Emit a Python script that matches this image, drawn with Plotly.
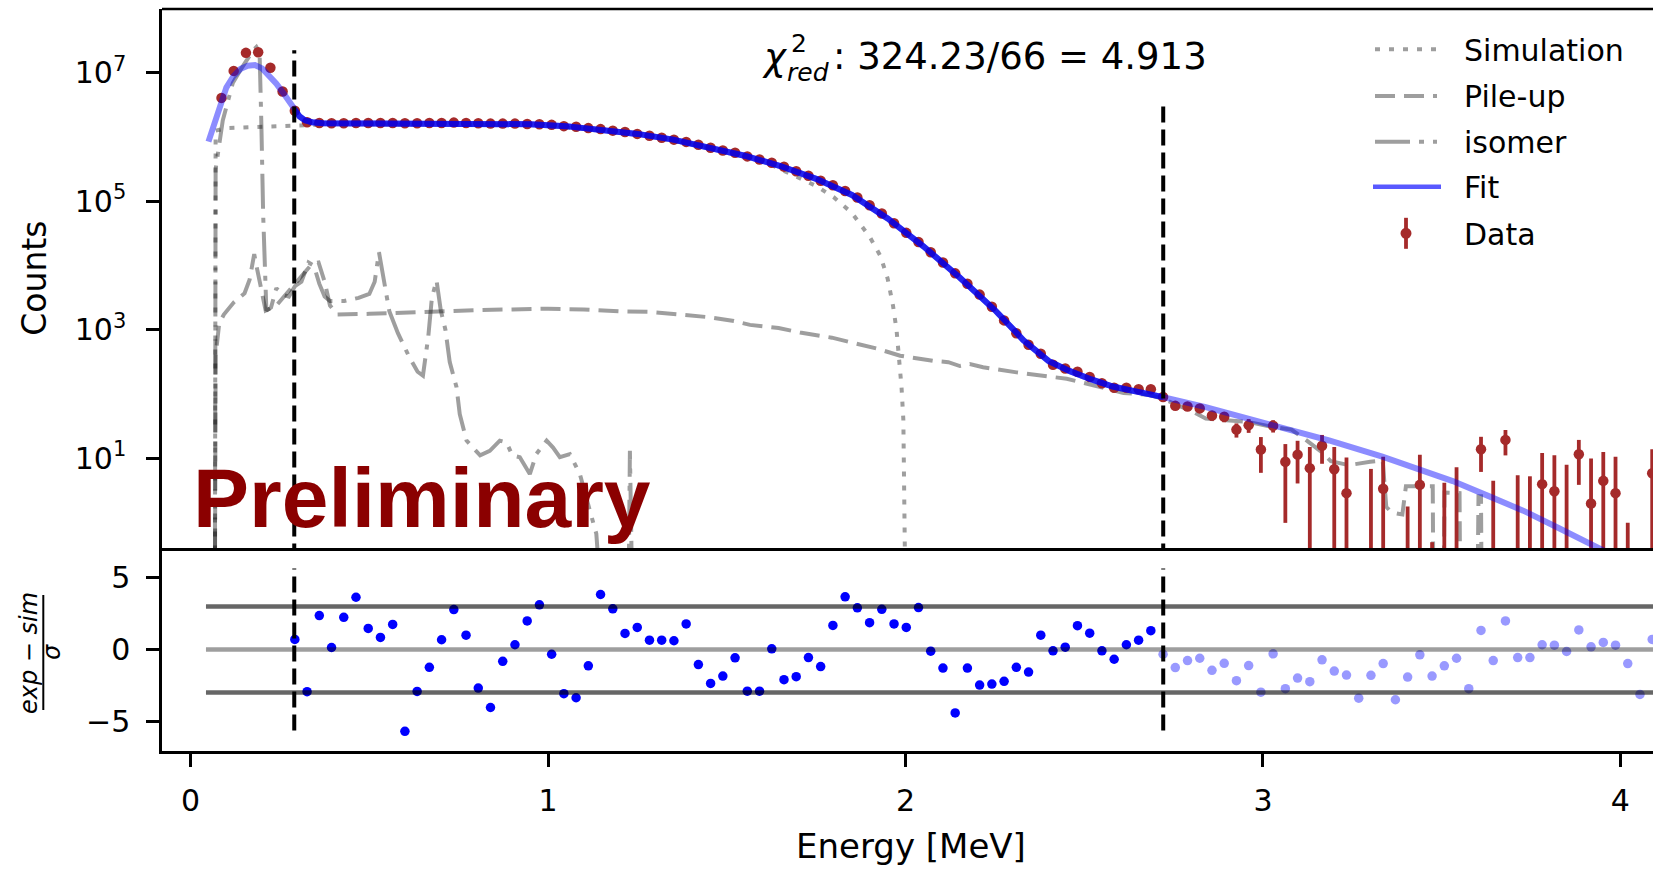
import numpy as np
import plotly.graph_objects as go

# ---------------- data ----------------
E0 = 0.0864          # first bin centre [MeV]
BIN = 0.03421        # bin width [MeV]

data_counts = [
    4.07e6, 1.07e7, 2.04e7, 2.09e7, 1.20e7, 5.13e6, 2.57e6,
    1.70e6, 1.66e6, 1.64e6, 1.64e6, 1.66e6, 1.66e6, 1.66e6, 1.66e6, 1.64e6, 1.64e6,
    1.66e6, 1.66e6, 1.68e6, 1.66e6, 1.64e6, 1.62e6, 1.62e6, 1.62e6, 1.60e6, 1.585e6,
    1.55e6, 1.48e6, 1.445e6, 1.38e6, 1.33e6, 1.26e6, 1.20e6, 1.12e6, 1.05e6, 9.77e5,
    9.12e5, 8.41e5, 7.59e5, 6.84e5, 6.17e5, 5.69e5, 5.01e5, 4.47e5, 3.98e5, 3.47e5,
    2.95e5, 2.51e5, 2.09e5, 1.78e5, 1.45e5, 1.15e5, 8.71e4, 6.46e4, 4.57e4, 3.24e4,
    2.34e4, 1.62e4, 1.12e4, 7.59e3, 5.25e3, 3.55e3, 2.29e3, 1.41e3, 891, 589,
    427, 288, 251, 224, 186, 148, 126, 126, 120, 120,
    90.8, 66.0, 64.6, 60.3, 46.8, 44.7, 28.2, 33.1, 13.8, 32.4,
    8.9, 11.5, 7.1, 15.8, 6.8, 2.9, -8.5, -1.1, 3.4, -8.6,
    -6.2, 3.9, -7.5, -3.8, -0.7, -8.7, 14.0, -3.5, 19.5, -2.5,
    -2.7, 4.0, 3.1, -0.2, 11.7, 2.0, 4.5, 2.9, -7.0, -8.8,
    5.9,
]
TAIL_FIRST = 77      # first bin above the fit window (error bars visible there)
tail_err = [
    8, 8, 8, 8, 8, 8, 7, 8, 7.8, 7,
    7.9, 7.4, 8, 7.5, 8.3, 7.5, 8, 8, 7.3, 8,
    8, 7.6, 8, 8, 8, 8, 7.8, 8, 8.3, 8,
    8, 8.2, 8.2, 8.2, 7.8, 8, 8.2, 7.8, 8, 8,
    8.1,
]
FIT_FIRST, FIT_LAST = 6, 76   # bins inside the fit window

res_in = [
    0.70, -2.94, 2.36, 0.14, 2.24, 3.64, 1.47, 0.84, 1.75, -5.70,
    -2.92, -1.24, 0.68, 2.78, 1.00, -2.69, -4.04, -0.82, 0.33, 1.99,
    3.11, -0.33, -3.08, -3.36, -1.14, 3.83, 2.83, 1.12, 1.54, 0.65,
    0.65, 0.61, 1.78, -1.05, -2.36, -1.85, -0.58, -2.90, -2.90, 0.05,
    -2.10, -1.89, -0.56, -1.19, 1.68, 3.67, 2.90, 1.87, 2.80, 1.78,
    1.54, 2.92, -0.12, -1.29, -4.42, -1.29, -2.48, -2.41, -2.22, -1.24,
    -1.57, 1.00, -0.09, 0.16, 1.66, 1.14, -0.09, -0.68, 0.33, 0.65,
    1.31,
]
res_out = [
    -0.33, -1.26, -0.77, -0.61, -1.45, -0.96, -2.17, -1.12, -2.97, -0.30,
    -2.73, -1.99, -2.24, -0.72, -1.50, -1.78, -3.39, -1.80, -0.98, -3.50,
    -1.92, -0.37, -1.85, -1.14, -0.61, -2.73, 1.33, -0.77, 1.99, -0.56,
    -0.56, 0.33, 0.30, -0.14, 1.36, 0.19, 0.49, 0.30, -0.98, -3.13,
    0.70,
]

fit_pre_E = [0.05, 0.07, 0.086, 0.10, 0.12, 0.14, 0.16, 0.18, 0.20, 0.22, 0.24, 0.26, 0.28, 0.29]
fit_pre_counts = [8.5e5, 1.86e6, 3.8e6, 5.89e6, 8.91e6, 1.15e7, 1.29e7, 1.32e7, 1.17e7,
                  9.12e6, 6.76e6, 4.79e6, 3.24e6, 2.69e6]
fit_in_E = [0.29, 0.305, 0.32, 0.34, 0.37, 0.45, 0.55, 0.65, 0.75, 0.85, 0.95, 1.05, 1.15,
            1.25, 1.35, 1.45, 1.55, 1.65, 1.75, 1.85, 1.95, 2.05, 2.15, 2.25, 2.33, 2.40,
            2.46, 2.52, 2.58, 2.64, 2.69, 2.721]
fit_in_counts = [2.69e6, 2.09e6, 1.82e6, 1.70e6, 1.64e6, 1.64e6, 1.66e6, 1.66e6, 1.66e6,
                 1.62e6, 1.585e6, 1.48e6, 1.32e6, 1.12e6, 9.12e5, 6.92e5, 5.13e5, 3.55e5,
                 2.24e5, 1.26e5, 5.43e4, 2.0e4, 6.68e3, 2.04e3, 692, 331, 229, 170, 132,
                 112, 100, 90.2]
fit_post_E = [2.721, 2.84, 3.037, 3.185, 3.334, 3.432, 3.531, 3.63, 3.728, 3.827, 3.945, 4.05, 4.15]
fit_post_counts = [90.2, 63.1, 32.4, 19.1, 10.7, 7.08, 4.47, 2.63, 1.55, 0.83, 0.40, 0.20, 0.10]

sim_E = [0.068, 0.070, 0.10, 0.15, 0.20, 0.25, 0.29, 0.35, 0.50, 0.70, 0.90, 1.00, 1.10,
         1.20, 1.30, 1.40, 1.50, 1.60, 1.70, 1.75, 1.80, 1.85, 1.90, 1.93, 1.95, 1.965,
         1.975, 1.983, 1.989, 1.994, 1.998, 2.0]
sim_counts = [0.05, 1.26e6, 1.38e6, 1.41e6, 1.45e6, 1.45e6, 1.48e6, 1.55e6, 1.58e6, 1.58e6,
              1.55e6, 1.48e6, 1.35e6, 1.17e6, 1.0e6, 7.76e5, 5.89e5, 4.27e5, 2.4e5, 1.74e5,
              1.15e5, 6.6e4, 2.8e4, 1.41e4, 6.3e3, 2.4e3, 1.0e3, 355, 126, 40, 3.2, 0.05]

pile_E = [0.068, 0.070, 0.08, 0.093, 0.121, 0.151, 0.165, 0.178, 0.186, 0.20, 0.21, 0.24,
          0.266, 0.292, 0.32, 0.34, 0.358, 0.375, 0.39, 0.41, 0.50, 0.60, 0.70, 0.80, 0.90,
          1.00, 1.10, 1.20, 1.285, 1.378, 1.45, 1.52, 1.565, 1.645, 1.705, 1.794, 1.845,
          1.92, 1.985, 2.077, 2.12, 2.152, 2.18, 2.217, 2.311, 2.376, 2.451, 2.525, 2.61,
          2.68, 2.721, 2.76, 2.80, 2.84, 2.90, 2.96, 3.02, 3.08, 3.12, 3.16, 3.19, 3.24,
          3.30, 3.335, 3.345, 3.36, 3.39, 3.40, 3.475, 3.477, 3.505, 3.508, 3.55, 3.552,
          3.600, 3.603, 3.61, 3.612, 3.70]
pile_counts = [0.05, 398, 1.26e3, 1.74e3, 2.69e3, 3.72e3, 6.03e3, 1.51e4, 8.91e3, 3.55e3,
               2.0e3, 2.4e3, 3.55e3, 5.25e3, 7.59e3, 1.07e4, 1.12e4, 5.62e3, 2.4e3, 1.74e3,
               1.78e3, 1.86e3, 2.0e3, 2.04e3, 2.09e3, 2.14e3, 2.09e3, 1.95e3, 1.91e3, 1.70e3,
               1.58e3, 1.38e3, 1.20e3, 1.07e3, 912, 759, 646, 513, 398, 331, 316, 275, 295,
               263, 219, 200, 174, 138, 105, 98, 85, 68, 55, 42, 40, 37, 31.6, 28.2, 19.5,
               13.2, 9.1, 7.9, 8.9, 9.3, 1.78, 1.45, 1.35, 3.7, 3.7, 0.05, 0.05, 2.95, 2.9,
               0.05, 0.05, 2.6, 2.6, 0.05, 0.05]

iso_E = [0.068, 0.070, 0.09, 0.118, 0.14, 0.16, 0.175, 0.184, 0.193, 0.198, 0.203, 0.212,
         0.225, 0.24, 0.255, 0.275, 0.292, 0.31, 0.33, 0.345, 0.36, 0.375, 0.39, 0.43, 0.47,
         0.50, 0.515, 0.527, 0.54, 0.556, 0.58, 0.61, 0.635, 0.65, 0.665, 0.675, 0.688,
         0.70, 0.713, 0.725, 0.744, 0.753, 0.772, 0.79, 0.81, 0.837, 0.865, 0.884, 0.90,
         0.921, 0.949, 0.967, 0.996, 1.014, 1.033, 1.061, 1.089, 1.117, 1.135, 1.15, 1.225,
         1.229, 1.236, 1.30]
iso_counts = [0.05, 3.16e5, 1.82e6, 6.92e6, 1.12e7, 1.70e7, 2.24e7, 2.51e7, 2.04e7, 1.58e6,
              6.31e4, 2.0e3, 2.24e3, 4.47e3, 3.55e3, 3.31e3, 4.79e3, 5.62e3, 1.12e4, 1.0e4,
              5.25e3, 3.31e3, 2.82e3, 2.82e3, 3.16e3, 3.63e3, 5.62e3, 1.62e4, 6.31e3, 1.95e3,
              891, 398, 224, 195, 794, 3.16e3, 5.89e3, 2.0e3, 1.0e3, 316, 129, 49, 19, 14.8,
              11.2, 13.2, 19, 17.8, 11.2, 10.5, 5.75, 11.7, 19, 14.8, 10.5, 11.7, 5.75, 1.55,
              0.68, 0.05, 0.05, 13.2, 0.05, 0.05]

fit_lo, fit_hi = 0.29, 2.721            # fit window [MeV]
fit_lo_top, fit_hi_top = 2.24e7, 3.0e6  # heights of the window markers
res_levels_outer = [-3, 3]
res_level_mid = 0
res_line_E = [0.043, 4.3]
res_vline_span = [-5.65, 5.65]
chi2, ndf = 324.23, 66

x_ticks = [0, 1, 2, 3, 4]
y_ticks_main = [1e1, 1e3, 1e5, 1e7]
y_ticklabels_main = ["10<sup>1</sup>", "10<sup>3</sup>", "10<sup>5</sup>", "10<sup>7</sup>"]
y_ticks_res = [-5, 0, 5]
legend_labels = ["Simulation", "Pile-up", "isomer", "Fit", "Data"]

# ---------------- geometry / style ----------------
W, H = 1653, 869
ML, MR, MT, MB = 162, 0, 9, 118
PW, PH = W - ML - MR, H - MT - MB
SPLIT = (H - MB - 548) / PH
XR = [-0.080, 4.0912]

def px2x(px):
    return (px - ML) / PW

def py2y(py):
    return (H - MB - py) / PH

GREY = "rgba(0,0,0,0.38)"
DOT = "5px,9px"
DASH = "20px,9px"
DASHDOT = "35px,9px,5px,9px"
BLACKDASH = "16px,7px"
DATA_C = "#a52a2a"
FONT = "DejaVu Sans"

energy = E0 + BIN * np.arange(len(data_counts))

fig = go.Figure()

# ---- main panel ----
fig.add_trace(go.Scatter(x=iso_E, y=iso_counts, mode="lines",
                         line=dict(color=GREY, width=4, dash=DASHDOT), xaxis="x", yaxis="y"))
fig.add_trace(go.Scatter(x=pile_E, y=pile_counts, mode="lines",
                         line=dict(color=GREY, width=4, dash=DASH), xaxis="x", yaxis="y"))
fig.add_trace(go.Scatter(x=sim_E, y=sim_counts, mode="lines",
                         line=dict(color=GREY, width=4, dash=DOT), xaxis="x", yaxis="y"))

# data error bars (only the tail bins have visible bars)
seg_x, seg_y = [], []
for k, s in enumerate(tail_err):
    i = TAIL_FIRST + k
    c = data_counts[i]
    hi = c + s
    if hi <= 0:
        continue
    lo = c - s if c - s > 0 else 1e-3
    seg_x += [energy[i], energy[i], None]
    seg_y += [lo, hi, None]
fig.add_trace(go.Scatter(x=seg_x, y=seg_y, mode="lines",
                         line=dict(color=DATA_C, width=3.8), xaxis="x", yaxis="y"))
fig.add_trace(go.Scatter(x=energy, y=[c if c > 0 else None for c in data_counts],
                         mode="markers", marker=dict(color=DATA_C, size=10.5),
                         xaxis="x", yaxis="y"))

fit_all_E = fit_pre_E + fit_in_E[1:] + fit_post_E[1:]
fit_all_counts = fit_pre_counts + fit_in_counts[1:] + fit_post_counts[1:]
fig.add_trace(go.Scatter(x=fit_all_E, y=fit_all_counts, mode="lines",
                         line=dict(color="rgba(0,0,255,0.45)", width=6), xaxis="x", yaxis="y"))
fig.add_trace(go.Scatter(x=fit_in_E, y=fit_in_counts, mode="lines",
                         line=dict(color="rgba(0,0,235,0.75)", width=6), xaxis="x", yaxis="y"))

fig.add_trace(go.Scatter(x=[fit_lo, fit_lo, None, fit_hi, fit_hi],
                         y=[1e-2, fit_lo_top, None, 1e-2, fit_hi_top], mode="lines",
                         line=dict(color="black", width=4, dash=BLACKDASH), xaxis="x", yaxis="y"))

# ---- residual panel ----
fig.add_trace(go.Scatter(x=energy[FIT_FIRST:FIT_LAST + 1], y=res_in, mode="markers",
                         marker=dict(color="#0000ff", size=9.5), xaxis="x2", yaxis="y2"))
fig.add_trace(go.Scatter(x=energy[TAIL_FIRST:TAIL_FIRST + len(res_out)], y=res_out, mode="markers",
                         marker=dict(color="rgba(0,0,255,0.4)", size=9.5), xaxis="x2", yaxis="y2"))
for lev in res_levels_outer:
    fig.add_trace(go.Scatter(x=res_line_E, y=[lev, lev], mode="lines",
                             line=dict(color="rgba(0,0,0,0.6)", width=4.5), xaxis="x2", yaxis="y2"))
fig.add_trace(go.Scatter(x=res_line_E, y=[res_level_mid, res_level_mid], mode="lines",
                         line=dict(color="rgba(0,0,0,0.38)", width=4.5), xaxis="x2", yaxis="y2"))
fig.add_trace(go.Scatter(x=[fit_lo, fit_lo, None, fit_hi, fit_hi],
                         y=[res_vline_span[0], res_vline_span[1], None, res_vline_span[0], res_vline_span[1]],
                         mode="lines", line=dict(color="black", width=4, dash=BLACKDASH),
                         xaxis="x2", yaxis="y2"))

axis_common = dict(showgrid=False, zeroline=False, showline=True, linecolor="black",
                   linewidth=2.5, ticks="outside", ticklen=13, tickwidth=2.5, tickcolor="black",
                   tickfont=dict(family=FONT, size=30, color="black"))

fig.update_layout(
    width=W, height=H,
    margin=dict(l=ML, r=MR, t=MT, b=MB, pad=0),
    paper_bgcolor="white", plot_bgcolor="white",
    showlegend=False,
    font=dict(family=FONT, size=30, color="black"),
    xaxis=dict(domain=[0, 1], range=XR, anchor="y", showticklabels=False,
               showgrid=False, zeroline=False, showline=True, linecolor="black",
               linewidth=2.5, ticks=""),
    yaxis=dict(axis_common, domain=[SPLIT, 1], type="log", range=[-0.391, 7.992], anchor="x",
               tickvals=y_ticks_main, ticktext=y_ticklabels_main, ticklabelstandoff=14),
    xaxis2=dict(axis_common, domain=[0, 1], range=XR, anchor="y2", tickvals=x_ticks,
                ticktext=[str(v) for v in x_ticks], ticklabelstandoff=8),
    yaxis2=dict(axis_common, domain=[0, SPLIT], range=[-7.07, 7.07], anchor="x2",
                tickvals=y_ticks_res, ticklabelstandoff=10),
)

shapes = [dict(type="line", xref="paper", yref="paper", x0=0, x1=1, y0=1, y1=1,
               line=dict(color="black", width=2.5))]
annotations = []

def ann(text, px, py, size, xanchor="left", yanchor="middle", family=FONT, angle=0, color="black"):
    annotations.append(dict(text=text, x=px2x(px), y=py2y(py), xref="paper", yref="paper",
                            xanchor=xanchor, yanchor=yanchor, showarrow=False, textangle=angle,
                            font=dict(family=family, size=size, color=color)))

# axis titles
ann("Counts", 33.7, 278, 33, xanchor="center", angle=-90)
ann("Energy [MeV]", 911, 846, 34, xanchor="center")
ann("<i>exp − sim</i>", 29, 653, 24, xanchor="center", angle=-90)
ann("<i>σ</i>", 52, 652, 24, xanchor="center", angle=-90)
shapes.append(dict(type="line", xref="paper", yref="paper", x0=px2x(43.3), x1=px2x(43.3),
                   y0=py2y(595), y1=py2y(710), line=dict(color="black", width=2)))

# chi2 text (chi with stacked super/subscript)
ann("<i>χ</i>", 760, 57, 37)
ann("2", 789, 43.5, 25)
ann("<i>red</i>", 785, 72.5, 25)
ann(f": {chi2:.2f}/{ndf} = {chi2 / ndf:.3f}", 831, 56.8, 37)

# Preliminary
ann("<b>Preliminary</b>", 191, 498, 84, family="Liberation Sans", color="#8b0000")

# custom legend
rows = [49.3, 96, 141.7, 186.7, 233.3]
legend_styles = [(GREY, DOT, 4), (GREY, DASH, 4), (GREY, DASHDOT, 4)]
for (col, dsh, wd), ry in zip(legend_styles, rows[:3]):
    shapes.append(dict(type="line", xref="paper", yref="paper", x0=px2x(1375), x1=px2x(1437),
                       y0=py2y(ry), y1=py2y(ry), line=dict(color=col, width=wd, dash=dsh)))
shapes.append(dict(type="line", xref="paper", yref="paper", x0=px2x(1373), x1=px2x(1441),
                   y0=py2y(rows[3]), y1=py2y(rows[3]), line=dict(color="rgba(0,0,255,0.65)", width=4.5)))
shapes.append(dict(type="line", xref="paper", yref="paper", x0=px2x(1406), x1=px2x(1406),
                   y0=py2y(rows[4] - 15.5), y1=py2y(rows[4] + 15.5), line=dict(color=DATA_C, width=3.8)))
shapes.append(dict(type="circle", xref="paper", yref="paper", x0=px2x(1400.5), x1=px2x(1411.5),
                   y0=py2y(rows[4] - 5.5), y1=py2y(rows[4] + 5.5), fillcolor=DATA_C,
                   line=dict(width=0)))
for lab, ry in zip(legend_labels, rows):
    ann(lab, 1462, ry + 1, 30)

fig.update_layout(shapes=shapes, annotations=annotations)
fig.write_html("out.html")
